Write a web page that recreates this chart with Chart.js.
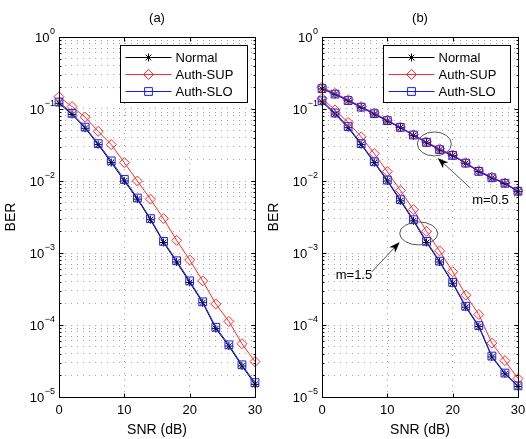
<!DOCTYPE html>
<html>
<head>
<meta charset="utf-8">
<script src="https://cdn.jsdelivr.net/npm/chart.js@4.4.1/dist/chart.umd.min.js"></script>
<style>
  body { margin: 0; background: #fff; }
  #wrap { display: flex; width: 526px; height: 439px; }
  canvas { display: block; }
</style>
</head>
<body>
<div id="wrap">
  <canvas id="chartA" width="263" height="439"></canvas>
  <canvas id="chartB" width="263" height="439"></canvas>
</div>
<script>
// x values (SNR in dB)
const snr = [0, 2, 4, 6, 8, 10, 12, 14, 16, 18, 20, 22, 24, 26, 28, 30];

// panel (a)
const normalA = [0.12, 0.084, 0.054, 0.032, 0.018, 0.0100, 0.0056, 0.0029, 0.0014, 0.00075, 0.00039, 0.000204, 0.000089, 0.000051, 0.000027, 0.000015];
const supA    = [0.148, 0.108, 0.077, 0.049, 0.032, 0.018, 0.010, 0.0056, 0.0030, 0.0015, 0.00080, 0.00041, 0.000196, 0.000112, 0.000055, 0.000031];
const sloA    = [0.125, 0.087, 0.056, 0.033, 0.019, 0.0105, 0.0058, 0.0030, 0.00145, 0.00078, 0.00041, 0.00021, 0.000093, 0.000053, 0.000028, 0.0000158];

// panel (b), m = 0.5
const normalB05 = [0.19, 0.16, 0.13, 0.105, 0.085, 0.068, 0.055, 0.043, 0.034, 0.027, 0.0225, 0.0176, 0.0135, 0.011, 0.0092, 0.0071];
const supB05    = [0.20, 0.165, 0.135, 0.108, 0.088, 0.070, 0.056, 0.044, 0.035, 0.028, 0.023, 0.018, 0.0139, 0.0113, 0.0094, 0.0073];
const sloB05    = [0.192, 0.161, 0.131, 0.106, 0.086, 0.069, 0.0555, 0.0435, 0.0343, 0.0272, 0.0227, 0.0177, 0.0136, 0.0111, 0.0093, 0.0072];
// panel (b), m = 1.5
const normalB15 = [0.126, 0.085, 0.055, 0.032, 0.018, 0.010, 0.0053, 0.0028, 0.0014, 0.00075, 0.00038, 0.000177, 0.000095, 0.000036, 0.000021, 0.000014];
const supB15    = [0.14, 0.097, 0.065, 0.041, 0.024, 0.0135, 0.0074, 0.0040, 0.0020, 0.00107, 0.00055, 0.00026, 0.00014, 0.000056, 0.000032, 0.000018];
const sloB15    = [0.13, 0.088, 0.057, 0.033, 0.0185, 0.0103, 0.0055, 0.0029, 0.00145, 0.00077, 0.00039, 0.000182, 0.000098, 0.000037, 0.0000215, 0.0000143];

const seriesNames = ['Normal', 'Auth-SUP', 'Auth-SLO'];
const panelTitles = ['(a)', '(b)'];
const xTicks = [0, 10, 20, 30];
const yExponents = [0, -1, -2, -3, -4, -5];
const minorSteps = [1, 2, 3, 4, 5, 6, 7, 8, 9];

// annotation text for panel (b), anchored in data coordinates
const notesB = [
  { text: 'm=0.5', ex: 17.2, ey: 0.0327, rx: 17, ry: 12, tail: [22.7, 0.008], head: [17.7, 0.0209], tx: 23, ty: 0.0053 },
  { text: 'm=1.5', ex: 14.8, ey: 0.00187, rx: 19, ry: 11.5, tail: [7.6, 0.000545], head: [11.9, 0.00142], tx: 2.1, ty: 0.000495 }
];

// grid values for the log axis: 1..9 x each decade
const yGrid = [];
yExponents.slice().reverse().forEach(e => {
  minorSteps.forEach(m => {
    const v = m * Math.pow(10, e);
    if (v <= 1.0000001) yGrid.push(v);
  });
});

const FONT = '"Liberation Sans", Arial, Helvetica, sans-serif';
const styles = [
  { color: '#000000', pointStyle: 'star', radius: 4, order: 2 },
  { color: '#ff2a2a', pointStyle: 'rectRot', radius: 5, order: 1 },
  { color: '#1a1aff', pointStyle: 'rect', radius: 5.5, order: 0 }
];

function makeDataset(name, values, s) {
  return {
    label: name,
    data: values.map((v, i) => ({ x: snr[i], y: v })),
    borderColor: s.color,
    backgroundColor: 'rgba(0,0,0,0)',
    borderWidth: 1,
    pointStyle: s.pointStyle,
    pointRadius: s.radius,
    pointBorderColor: s.color,
    pointBackgroundColor: 'rgba(0,0,0,0)',
    pointBorderWidth: 1,
    tension: 0,
    clip: false,
    order: s.order
  };
}

function drawMarker(ctx, style, x, y, r, color) {
  ctx.save();
  ctx.strokeStyle = color;
  ctx.lineWidth = 1;
  ctx.beginPath();
  if (style === 'star') {
    for (let k = 0; k < 4; k++) {
      const ang = k * Math.PI / 4;
      ctx.moveTo(x - Math.cos(ang) * r, y - Math.sin(ang) * r);
      ctx.lineTo(x + Math.cos(ang) * r, y + Math.sin(ang) * r);
    }
  } else if (style === 'rectRot') {
    ctx.moveTo(x - r, y); ctx.lineTo(x, y - r); ctx.lineTo(x + r, y); ctx.lineTo(x, y + r); ctx.closePath();
  } else {
    const h = r * Math.SQRT1_2;
    ctx.rect(x - h, y - h, 2 * h, 2 * h);
  }
  ctx.stroke();
  ctx.restore();
}

const panelPlugin = {
  id: 'panel',
  afterDraw(chart, args, opts) {
    const { ctx, chartArea: a } = chart;
    const xs = chart.scales.x, ys = chart.scales.y;
    ctx.save();

    // box
    const L = Math.round(a.left) + 0.5, R = Math.round(a.right) + 0.5;
    const T = Math.round(a.top) + 0.5, B = Math.round(a.bottom) + 0.5;
    ctx.strokeStyle = '#000';
    ctx.lineWidth = 1;
    ctx.strokeRect(L, T, R - L, B - T);

    // inward tick marks
    ctx.beginPath();
    yGrid.forEach(v => {
      const py = Math.round(ys.getPixelForValue(v)) + 0.5;
      const len = Math.abs(Math.log10(v) - Math.round(Math.log10(v))) < 1e-6 ? 4 : 2;
      ctx.moveTo(L, py); ctx.lineTo(L + len, py);
      ctx.moveTo(R, py); ctx.lineTo(R - len, py);
    });
    xTicks.forEach(v => {
      const px = Math.round(xs.getPixelForValue(v)) + 0.5;
      ctx.moveTo(px, B); ctx.lineTo(px, B - 4);
      ctx.moveTo(px, T); ctx.lineTo(px, T + 4);
    });
    ctx.stroke();

    // y tick labels 10^e
    ctx.fillStyle = '#000';
    yExponents.forEach(e => {
      const py = ys.getPixelForValue(Math.pow(10, e));
      const sup = e < 0 ? '\u2212' + (-e) : String(e);
      ctx.font = '9px ' + FONT;
      const sw = ctx.measureText(sup).width;
      const right = a.left - 4;
      ctx.textAlign = 'left';
      ctx.textBaseline = 'alphabetic';
      ctx.fillText(sup, right - sw, py - 3);
      ctx.font = '13px ' + FONT;
      ctx.textAlign = 'right';
      ctx.textBaseline = 'middle';
      ctx.fillText('10', right - sw - 0.5, py + 1);
    });

    // x tick labels
    ctx.font = '13px ' + FONT;
    ctx.textAlign = 'center';
    ctx.textBaseline = 'middle';
    xTicks.forEach(v => ctx.fillText(String(v), xs.getPixelForValue(v), a.bottom + 13));

    // axis titles and panel title
    ctx.font = '14px ' + FONT;
    ctx.fillText('SNR (dB)', (a.left + a.right) / 2, a.bottom + 33);
    ctx.save();
    ctx.translate(11, (a.top + a.bottom) / 2);
    ctx.rotate(-Math.PI / 2);
    ctx.fillText('BER', 0, 0);
    ctx.restore();
    ctx.font = '13px ' + FONT;
    ctx.fillText(opts.title, (a.left + a.right) / 2, 18);

    // legend
    const bl = Math.round(a.right - 135) + 0.5, bt = Math.round(a.top + 8) + 0.5;
    ctx.fillStyle = '#fff';
    ctx.fillRect(bl, bt, 127, 57);
    ctx.strokeStyle = '#000';
    ctx.strokeRect(bl, bt, 127, 57);
    seriesNames.forEach((name, i) => {
      const ds = chart.data.datasets[i];
      const ry = bt + 12 + i * 17;
      ctx.strokeStyle = ds.borderColor;
      ctx.beginPath();
      ctx.moveTo(bl + 5, ry); ctx.lineTo(bl + 51, ry);
      ctx.stroke();
      drawMarker(ctx, ds.pointStyle, bl + 28, ry, ds.pointRadius, ds.borderColor);
      ctx.fillStyle = '#000';
      ctx.font = '13px ' + FONT;
      ctx.textAlign = 'left';
      ctx.textBaseline = 'middle';
      ctx.fillText(name, bl + 55, ry + 1);
    });

    // annotations
    (opts.notes || []).forEach(n => {
      const ex = xs.getPixelForValue(n.ex), ey = ys.getPixelForValue(n.ey);
      ctx.strokeStyle = '#555';
      ctx.beginPath();
      ctx.ellipse(ex, ey, n.rx, n.ry, 0, 0, Math.PI * 2);
      ctx.stroke();
      const x0 = xs.getPixelForValue(n.tail[0]), y0 = ys.getPixelForValue(n.tail[1]);
      const x1 = xs.getPixelForValue(n.head[0]), y1 = ys.getPixelForValue(n.head[1]);
      const ang = Math.atan2(y1 - y0, x1 - x0);
      ctx.beginPath();
      ctx.moveTo(x0, y0); ctx.lineTo(x1 - Math.cos(ang) * 6, y1 - Math.sin(ang) * 6);
      ctx.stroke();
      ctx.fillStyle = '#000';
      ctx.beginPath();
      ctx.moveTo(x1, y1);
      ctx.lineTo(x1 - Math.cos(ang) * 11 + Math.sin(ang) * 4, y1 - Math.sin(ang) * 11 - Math.cos(ang) * 4);
      ctx.lineTo(x1 - Math.cos(ang) * 8, y1 - Math.sin(ang) * 8);
      ctx.lineTo(x1 - Math.cos(ang) * 11 - Math.sin(ang) * 4, y1 - Math.sin(ang) * 11 + Math.cos(ang) * 4);
      ctx.closePath();
      ctx.fill();
      ctx.font = '13px ' + FONT;
      ctx.textAlign = 'left';
      ctx.textBaseline = 'middle';
      ctx.fillText(n.text, xs.getPixelForValue(n.tx), ys.getPixelForValue(n.ty));
    });

    ctx.restore();
  }
};

function makeChart(id, datasets, title, notes) {
  return new Chart(document.getElementById(id), {
    type: 'line',
    data: { datasets: datasets },
    options: {
      responsive: false,
      animation: false,
      devicePixelRatio: 1,
      layout: { padding: { top: 37, right: 8, bottom: 0, left: 0 } },
      scales: {
        x: {
          type: 'linear',
          min: 0,
          max: 30,
          afterBuildTicks: s => { s.ticks = xTicks.map(v => ({ value: v })); },
          afterFit: s => { s.height = 42; },
          ticks: { display: false },
          grid: { color: '#a8a8a8', lineWidth: 1, drawTicks: false },
          border: { display: false, dash: [1, 5] }
        },
        y: {
          type: 'logarithmic',
          min: 1e-5,
          max: 1,
          afterBuildTicks: s => { s.ticks = yGrid.map(v => ({ value: v })); },
          afterFit: s => { s.width = 59; },
          ticks: { display: false },
          grid: { color: '#a8a8a8', lineWidth: 1, drawTicks: false },
          border: { display: false, dash: [1, 5] }
        }
      },
      plugins: {
        legend: { display: false },
        tooltip: { enabled: false },
        panel: { title: title, notes: notes }
      }
    },
    plugins: [panelPlugin]
  });
}

makeChart('chartA', [
  makeDataset(seriesNames[0], normalA, styles[0]),
  makeDataset(seriesNames[1], supA, styles[1]),
  makeDataset(seriesNames[2], sloA, styles[2])
], panelTitles[0], []);

makeChart('chartB', [
  makeDataset(seriesNames[0], normalB05, styles[0]),
  makeDataset(seriesNames[1], supB05, styles[1]),
  makeDataset(seriesNames[2], sloB05, styles[2]),
  makeDataset(seriesNames[0], normalB15, styles[0]),
  makeDataset(seriesNames[1], supB15, styles[1]),
  makeDataset(seriesNames[2], sloB15, styles[2])
], panelTitles[1], notesB);
</script>
</body>
</html>
